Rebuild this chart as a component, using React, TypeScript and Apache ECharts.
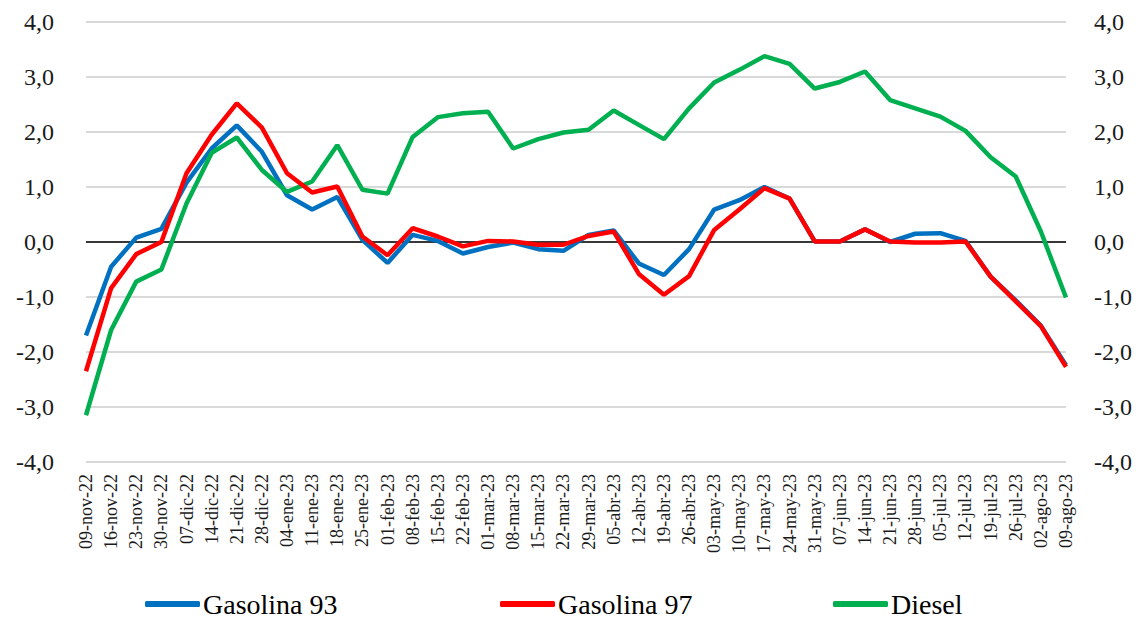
import React, { useEffect, useRef } from "react";
import * as echarts from "echarts";

const categories = [
  "09-nov-22", "16-nov-22", "23-nov-22", "30-nov-22",
  "07-dic-22", "14-dic-22", "21-dic-22", "28-dic-22",
  "04-ene-23", "11-ene-23", "18-ene-23", "25-ene-23",
  "01-feb-23", "08-feb-23", "15-feb-23", "22-feb-23",
  "01-mar-23", "08-mar-23", "15-mar-23", "22-mar-23", "29-mar-23",
  "05-abr-23", "12-abr-23", "19-abr-23", "26-abr-23",
  "03-may-23", "10-may-23", "17-may-23", "24-may-23", "31-may-23",
  "07-jun-23", "14-jun-23", "21-jun-23", "28-jun-23",
  "05-jul-23", "12-jul-23", "19-jul-23", "26-jul-23",
  "02-ago-23", "09-ago-23",
];

const gasolina93 = [
  -1.7, -0.45, 0.08, 0.24, 1.08, 1.7, 2.12, 1.64, 0.85, 0.59,
  0.82, 0.04, -0.38, 0.13, 0.02, -0.21, -0.09, -0.01, -0.13, -0.16,
  0.13, 0.21, -0.39, -0.6, -0.13, 0.59, 0.76, 1.0, 0.79, 0.01,
  0.01, 0.23, 0.0, 0.15, 0.16, 0.02, -0.63, -1.06, -1.52, -2.24,
];

const gasolina97 = [
  -2.35, -0.84, -0.22, 0.0, 1.25, 1.95, 2.52, 2.08, 1.25, 0.9,
  1.01, 0.1, -0.24, 0.25, 0.1, -0.08, 0.02, 0.01, -0.05, -0.05,
  0.11, 0.19, -0.58, -0.96, -0.62, 0.22, 0.59, 0.98, 0.79, 0.01,
  0.01, 0.23, 0.01, -0.01, -0.01, 0.01, -0.63, -1.08, -1.53, -2.27,
];

const diesel = [
  -3.15, -1.6, -0.72, -0.5, 0.7, 1.62, 1.9, 1.31, 0.91, 1.1,
  1.76, 0.95, 0.88, 1.91, 2.27, 2.34, 2.37, 1.7, 1.87, 1.99,
  2.04, 2.39, 2.13, 1.87, 2.43, 2.9, 3.13, 3.38, 3.24, 2.79,
  2.91, 3.1, 2.58, 2.43, 2.28, 2.02, 1.54, 1.19, 0.19, -1.01,
];

const seriesNames = ["Gasolina 93", "Gasolina 97", "Diesel"];
const seriesColors = ["#0070C0", "#FF0000", "#00B050"];

const FONT = "Times New Roman, Liberation Serif, DejaVu Serif, serif";

export default function App() {
  const ref = useRef<HTMLDivElement>(null);

  useEffect(() => {
    document.body.style.margin = "0";
    if (!ref.current) return;
    const chart = echarts.init(ref.current, undefined, { renderer: "svg" });
    const fmt = (v: number) => v.toFixed(1).replace(".", ",");
    const yAxisBase = {
      type: "value" as const,
      min: -4,
      max: 4,
      interval: 1,
      axisLine: { show: false },
      axisTick: { show: false },
      splitLine: { show: true, lineStyle: { color: "#d9d9d9", width: 2 } },
      axisLabel: {
        formatter: fmt,
        fontFamily: FONT,
        fontSize: 24,
        color: "#1a1a1a",
      },
    };
    const dataSets = [gasolina93, gasolina97, diesel];
    const legendLefts = [145, 500, 833];
    chart.setOption({
      animation: false,
      backgroundColor: "#ffffff",
      textStyle: { fontFamily: FONT },
      grid: { left: 86, right: 76, top: 22, bottom: 156, containLabel: false },
      xAxis: {
        type: "category",
        data: categories,
        boundaryGap: false,
        axisLine: { show: false },
        axisTick: { show: false },
        splitLine: { show: false },
        axisLabel: {
          rotate: 90,
          interval: 0,
          margin: 12,
          fontFamily: FONT,
          fontSize: 18,
          color: "#1a1a1a",
        },
      },
      yAxis: [
        { ...yAxisBase, position: "left", axisLabel: { ...yAxisBase.axisLabel, margin: 32 } },
        { ...yAxisBase, position: "right", splitLine: { show: false }, axisLabel: { ...yAxisBase.axisLabel, margin: 28 } },
      ],
      legend: seriesNames.map((name, i) => ({
        data: [name],
        left: legendLefts[i],
        top: 590,
        icon: "roundRect",
        itemWidth: 55,
        itemHeight: 6,
        itemGap: 4,
        textStyle: { fontFamily: FONT, fontSize: 28, color: "#000", padding: [0, 0, 0, -2] },
        padding: 0,
      })),
      series: seriesNames.map((name, i) => ({
        name,
        type: "line",
        data: dataSets[i],
        yAxisIndex: 0,
        showSymbol: false,
        symbol: "none",
        lineStyle: { color: seriesColors[i], width: 4.5 },
        itemStyle: { color: seriesColors[i] },
        z: i === 1 ? 4 : 3,
        markLine:
          i === 0
            ? {
                silent: true,
                symbol: ["none", "none"],
                label: { show: false },
                lineStyle: { color: "#000", width: 1.5, type: "solid" },
                data: [{ yAxis: 0 }],
                z: 1,
              }
            : undefined,
      })),
    });
    return () => chart.dispose();
  }, []);

  return <div ref={ref} style={{ width: 1142, height: 618 }} />;
}
